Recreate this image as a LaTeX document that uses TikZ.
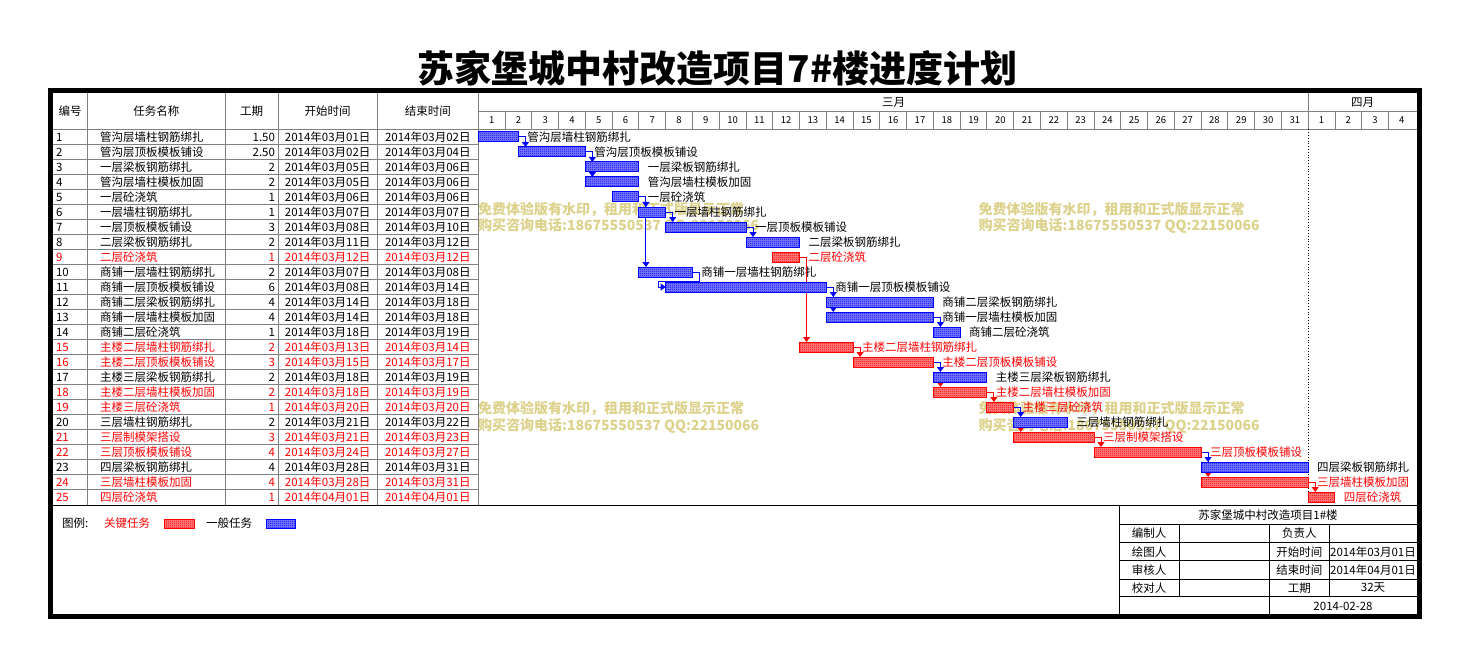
\documentclass[tikz,border=0pt]{standalone}
\usepackage{fontspec}
\setmainfont{Noto Sans CJK SC}
\usetikzlibrary{arrows.meta,patterns.meta,calc}
\definecolor{wmcol}{RGB}{220,210,140}
\definecolor{gridg}{RGB}{128,128,128}
\pgfdeclarepattern{
  name=chk,
  type=uncolored,
  bottom left={\pgfpointorigin},
  top right={\pgfqpoint{2pt}{2pt}},
  tile size={\pgfqpoint{2pt}{2pt}},
  code={
    \pgfpathrectangle{\pgfpointorigin}{\pgfqpoint{1pt}{1pt}}
    \pgfpathrectangle{\pgfqpoint{1pt}{1pt}}{\pgfqpoint{1pt}{1pt}}
    \pgfusepath{fill}
  }
}
\tikzset{
  txt/.style={font=\fontsize{11.5}{12}\selectfont, inner sep=0pt, outer sep=0pt},
  small/.style={font=\fontsize{9.5}{10}\selectfont, inner sep=0pt},
  c0/.style={text=black},
  c1/.style={text=red},
  barshape/.style={inner sep=0pt, outer sep=0pt, minimum height=10pt, anchor=west},
  barfill0/.style={draw=blue, line width=1pt, fill=blue!50!white, postaction={pattern=chk, pattern color=blue}},
  barfill1/.style={draw=red, line width=1pt, fill=red!50!white, postaction={pattern=chk, pattern color=red}},
  lk0/.style={draw=blue, line width=1pt, -{Triangle[length=5pt,width=7pt]}},
  lk1/.style={draw=red, line width=1pt, -{Triangle[length=5pt,width=7pt]}},
  wmk/.style={text=wmcol, font=\fontsize{14}{14}\selectfont\bfseries, inner sep=0pt, anchor=west},
  gline/.style={draw=gridg, line width=0.9pt},
  bline/.style={draw=black, line width=1pt},
}
\begin{document}
\begin{tikzpicture}[x=1pt,y=-1pt]
\useasboundingbox (0,0) rectangle (1468,666);
\fill[white] (0,0) rectangle (1468,666);

% title
\node[font=\fontsize{37}{40}\selectfont\bfseries, inner sep=0pt] (title) at (717.5,68) {苏家堡城中村改造项目7\#楼进度计划};

% watermarks
\node[wmk] (w1a) at (478,209.5) {免费体验版有水印，租用和正式版显示正常};
\node[wmk] (w1b) at (478,225.5) {购买咨询电话:18675550537 QQ:22150066};
\node[wmk] (w2a) at (978.5,209.5) {免费体验版有水印，租用和正式版显示正常};
\node[wmk] (w2b) at (978.5,225.5) {购买咨询电话:18675550537 QQ:22150066};
\node[wmk] (w3a) at (478,408.5) {免费体验版有水印，租用和正式版显示正常};
\node[wmk] (w3b) at (478,425.5) {购买咨询电话:18675550537 QQ:22150066};
\node[wmk] (w4a) at (978.5,408.5) {免费体验版有水印，租用和正式版显示正常};
\node[wmk] (w4b) at (978.5,425.5) {购买咨询电话:18675550537 QQ:22150066};

% left table grid
\foreach \xx in {87.3,225.3,278,377.3,478.3} \draw[gline] (\xx,93) -- (\xx,505);
\foreach \k in {0,...,24} \draw[gline] (53,{129.5+\k*15}) -- (478.3,{129.5+\k*15});
% gantt header grid
\draw[gline] (478.3,111.3) -- (1417,111.3);
\draw[gline] (478.3,129.5) -- (1417,129.5);
\foreach \d in {1,...,34} \draw[gline] ({478.3+\d*26.77},111.3) -- ({478.3+\d*26.77},129.5);
\draw[gline] (1308.3,93) -- (1308.3,111.3);
\draw[black, line width=0.8pt, dotted] (1308.3,129.5) -- (1308.3,505);
\draw[bline] (53,505) -- (1417,505);

% header texts
\node[txt] (h1) at (70.2,111) {编号};
\node[txt] (h2) at (156.3,111) {任务名称};
\node[txt] (h3) at (251.7,111) {工期};
\node[txt] (h4) at (327.7,111) {开始时间};
\node[txt] (h5) at (427.8,111) {结束时间};
\node[txt] (m1) at (893.5,102) {三月};
\node[txt] (m2) at (1362.5,102) {四月};
\foreach \d in {1,...,31} \node[small] (d\d) at ({478.3+(\d-0.5)*26.77},120.5) {\d};
\foreach \d in {1,...,4} \node[small] (e\d) at ({478.3+(31+\d-0.5)*26.77},120.5) {\d};

% rows
\foreach \i/\nm/\du/\sd/\ed/\cr/\bs/\be in {
1/管沟层墙柱钢筋绑扎/1.50/03月01日/03月02日/0/0/1.5,
2/管沟层顶板模板铺设/2.50/03月02日/03月04日/0/1.5/4,
3/一层梁板钢筋绑扎/2/03月05日/03月06日/0/4/6,
4/管沟层墙柱模板加固/2/03月05日/03月06日/0/4/6,
5/一层砼浇筑/1/03月06日/03月06日/0/5/6,
6/一层墙柱钢筋绑扎/1/03月07日/03月07日/0/6/7,
7/一层顶板模板铺设/3/03月08日/03月10日/0/7/10,
8/二层梁板钢筋绑扎/2/03月11日/03月12日/0/10/12,
9/二层砼浇筑/1/03月12日/03月12日/1/11/12,
10/商铺一层墙柱钢筋绑扎/2/03月07日/03月08日/0/6/8,
11/商铺一层顶板模板铺设/6/03月08日/03月14日/0/7/13,
12/商铺二层梁板钢筋绑扎/4/03月14日/03月18日/0/13/17,
13/商铺一层墙柱模板加固/4/03月14日/03月18日/0/13/17,
14/商铺二层砼浇筑/1/03月18日/03月19日/0/17/18,
15/主楼二层墙柱钢筋绑扎/2/03月13日/03月14日/1/12/14,
16/主楼二层顶板模板铺设/3/03月15日/03月17日/1/14/17,
17/主楼三层梁板钢筋绑扎/2/03月18日/03月19日/0/17/19,
18/主楼二层墙柱模板加固/2/03月18日/03月19日/1/17/19,
19/主楼三层砼浇筑/1/03月20日/03月20日/1/19/20,
20/三层墙柱钢筋绑扎/2/03月21日/03月22日/0/20/22,
21/三层制模架搭设/3/03月21日/03月23日/1/20/23,
22/三层顶板模板铺设/4/03月24日/03月27日/1/23/27,
23/四层梁板钢筋绑扎/4/03月28日/03月31日/0/27/31,
24/三层墙柱模板加固/4/03月28日/03月31日/1/27/31,
25/四层砼浇筑/1/04月01日/04月01日/1/31/32}{
  \pgfmathsetmacro\yc{137+(\i-1)*15}
  \pgfmathsetmacro\yb{\yc+4.3}
  \pgfmathsetmacro\xs{478.3+\bs*26.77}
  \pgfmathsetmacro\xl{478.3+\be*26.77+9}
  \pgfmathsetmacro\bw{(\be-\bs)*26.77}
  \node[txt,c\cr,anchor=base west] (no\i) at (56,\yb) {\i};
  \node[txt,c\cr,anchor=base west] (nm\i) at (100,\yb) {\nm};
  \node[txt,c\cr,anchor=base east] (du\i) at (275,\yb) {\du};
  \node[txt,c\cr,anchor=base] (sd\i) at (327.7,\yb) {2014年\sd};
  \node[txt,c\cr,anchor=base] (ed\i) at (427.8,\yb) {2014年\ed};
  \node[barshape, minimum width=\bw pt] (b\i) at (\xs,\yc) {};
  \node[txt,c\cr,anchor=base west] (l\i) at (\xl,\yb) {\nm};
}

% connectors (red first, then blue)
\newcommand\lnk[3]{\draw[#1] (b#2.east) -| ($(b#2.east |- b#3.north)+(7,0)$);}
\lnk{lk1}{9}{15}
\lnk{lk1}{15}{16}
\lnk{lk1}{16}{18}
\lnk{lk1}{18}{19}
\lnk{lk1}{19}{21}
\lnk{lk1}{21}{22}
\lnk{lk1}{22}{24}
\lnk{lk1}{24}{25}
\lnk{lk0}{1}{2}
\lnk{lk0}{2}{4}
\lnk{lk0}{2}{3}
\lnk{lk0}{5}{10}
\lnk{lk0}{5}{6}
\lnk{lk0}{6}{7}
\lnk{lk0}{7}{8}
\lnk{lk0}{11}{13}
\lnk{lk0}{11}{12}
\lnk{lk0}{13}{14}
\lnk{lk0}{16}{17}
\lnk{lk0}{19}{20}
\lnk{lk0}{22}{23}
\draw[lk0] (b10.east) -- ++(7,0) |- ($(b11.north west)+(-7,-1)$) |- (b11.west);

% bars
\foreach \i/\cr in {1/0,2/0,3/0,4/0,5/0,6/0,7/0,8/0,9/1,10/0,11/0,12/0,13/0,14/0,15/1,16/1,17/0,18/1,19/1,20/0,21/1,22/1,23/0,24/1,25/1}
  \draw[barfill\cr] (b\i.north west) rectangle (b\i.south east);

% legend
\node[txt,anchor=west] (lg0) at (62,523) {图例:};
\node[txt,c1,anchor=west] (lg1) at (104,523) {关键任务};
\draw[barfill1] (164,519.3) rectangle (194,528);
\node[txt,anchor=west] (lg2) at (206,523) {一般任务};
\draw[barfill0] (266.3,519.3) rectangle (295.7,528);

% info table
\draw[bline] (1119,505) -- (1119,617);
\foreach \yy in {524,542.7,560.7,579,596.7} \draw[bline] (1119,\yy) -- (1417,\yy);
\draw[bline] (1179.3,524) -- (1179.3,596.7);
\draw[bline] (1269.3,524) -- (1269.3,617);
\draw[bline] (1329.3,524) -- (1329.3,596.7);
\node[txt] (t0) at (1268,515) {苏家堡城中村改造项目1\#楼};
\node[txt] (t1) at (1149,533.3) {编制人};
\node[txt] (t2) at (1149,551.7) {绘图人};
\node[txt] (t3) at (1149,570) {审核人};
\node[txt] (t4) at (1149,588) {校对人};
\node[txt] (t5) at (1299.3,533.3) {负责人};
\node[txt] (t6) at (1299.3,551.7) {开始时间};
\node[txt] (t7) at (1299.3,570) {结束时间};
\node[txt] (t8) at (1299.3,588) {工期};
\node[txt] (t9) at (1373,551.7) {2014年03月01日};
\node[txt] (t10) at (1373,570) {2014年04月01日};
\node[txt] (t11) at (1373,588) {32天};
\node[txt] (t12) at (1343,606) {2014-02-28};

% frame
\draw[line width=5pt] (50.5,90.5) rectangle (1419.5,616.5);
\end{tikzpicture}
\end{document}
